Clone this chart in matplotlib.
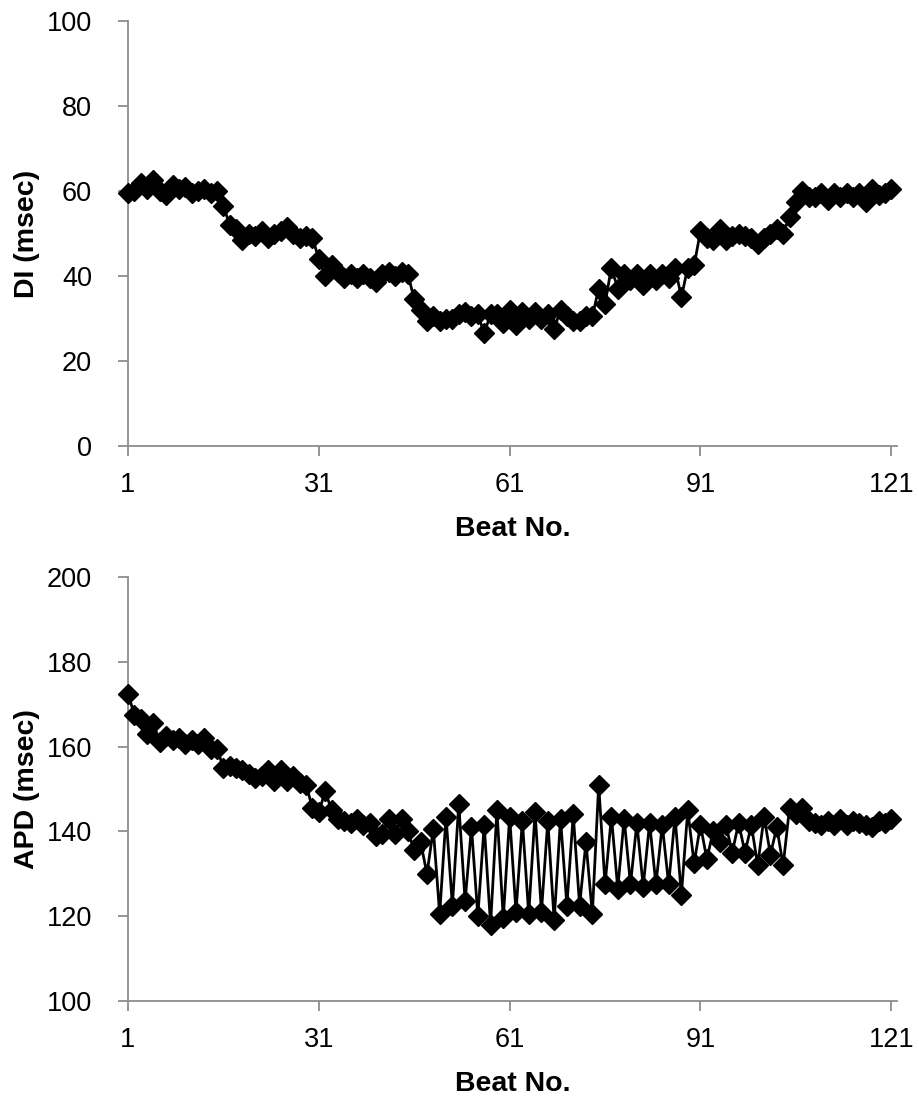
import numpy as np
import matplotlib
matplotlib.use('Agg')
import matplotlib.pyplot as plt

plt.rcParams['font.family'] = ['Liberation Sans', 'DejaVu Sans']

beats = np.arange(1, 122)

# DI values (msec), beats 1..121
di = [59.5, 60, 62, 60.5, 62.5, 60, 59, 61.5, 60.5, 61,
      59.5, 60, 60.5, 59.5, 60, 56.5, 52, 51, 48.5, 50,
      49.5, 50.5, 49, 50, 50.5, 51.5, 50, 49, 49.5, 49,
      44, 40, 42.5, 41, 39.5, 40.5, 39.5, 40.5, 39.5, 38.5,
      40.5, 41, 40, 41, 40.5, 34.5, 32, 29.5, 30.5, 29.5,
      30, 30, 31, 31.5, 30.5, 31, 26.5, 31, 31, 29,
      32, 28.5, 31.5, 30, 31.5, 30, 31, 27.5, 32, 30.5,
      29.5, 29.5, 30.5, 30.5, 37, 33.5, 42, 37, 40.5, 39,
      40.5, 38, 40.5, 39, 40.5, 39.5, 42, 35, 42, 42.5,
      50.5, 49, 48.5, 51, 48.5, 49.5, 50, 49.5, 49, 47.5,
      49, 50, 51, 50, 54, 57.5, 60, 58.5, 58.5, 59.5,
      58, 59.5, 58.5, 59.5, 58.5, 59.5, 57.5, 60.5, 59, 59.5,
      60.5]

# APD values (msec), beats 1..121
apd = [172.5, 167.5, 166.5, 163, 165.5, 161, 162.5, 161.5, 162, 160.5,
       161.5, 160.5, 162, 159.5, 159.5, 155, 155.5, 155, 154.5, 153.5,
       152.5, 153, 154.5, 152, 154.5, 152, 153, 151.5, 151, 145.5,
       144.5, 149.5, 145, 143, 142.5, 142, 143, 141.5, 142, 139,
       139.5, 143, 139.5, 143, 140, 135.5, 137.5, 130, 140.5, 120.5,
       143.5, 122.5, 146.5, 123.5, 141, 120, 141.5, 118, 145, 119.5,
       143.5, 121, 142.5, 120.5, 144.5, 121, 142.5, 119, 143, 122.5,
       144, 122.5, 137.5, 120.5, 151, 127.5, 143.5, 126.5, 143, 127.5,
       142, 127, 142, 127.5, 141.5, 127.5, 143.5, 125, 145, 132.5,
       141.5, 133.5, 140, 137.5, 141.5, 135, 142, 135, 141.5, 132,
       143.5, 134.5, 141, 132, 145.5, 144, 145.5, 142.5, 142, 141.5,
       142.5, 141.5, 143, 141.5, 142.5, 142, 141.5, 141, 142.5, 142,
       143]

xticks = [1, 31, 61, 91, 121]
W, H = 919, 1105
fig = plt.figure(figsize=(W / 100, H / 100), dpi=100)
ax1 = fig.add_axes([128 / W, 1 - 446 / H, (897 - 128) / W, (446 - 21) / H])
ax2 = fig.add_axes([128 / W, 1 - 1001 / H, (897 - 128) / W, (1001 - 577) / H])

gray = '#8c8c8c'
for ax, vals, ylim, ylab in [(ax1, di, (0, 100), 'DI (msec)'),
                             (ax2, apd, (100, 200), 'APD (msec)')]:
    ax.plot(beats, vals, color='black', lw=2, marker='D', ms=10,
            mec='black', mfc='black', clip_on=False, zorder=3)
    ax.set_xlim(1, 121.9)
    ax.set_ylim(*ylim)
    ax.set_xticks(xticks)
    ax.set_yticks(np.arange(ylim[0], ylim[1] + 1, 20))
    for s in ['top', 'right']:
        ax.spines[s].set_visible(False)
    for s in ['left', 'bottom']:
        ax.spines[s].set_color(gray)
        ax.spines[s].set_linewidth(1.3)
    ax.tick_params(direction='out', length=7, width=1.3, color=gray,
                   labelsize=19.5)
    ax.tick_params(axis='x', pad=12)
    ax.tick_params(axis='y', pad=19)
    ax.set_ylabel(ylab, fontsize=20.5, fontweight='bold', labelpad=5)
    ax.set_xlabel('Beat No.', fontsize=20.5, fontweight='bold', labelpad=13)

fig.savefig('out.png', dpi=100)
